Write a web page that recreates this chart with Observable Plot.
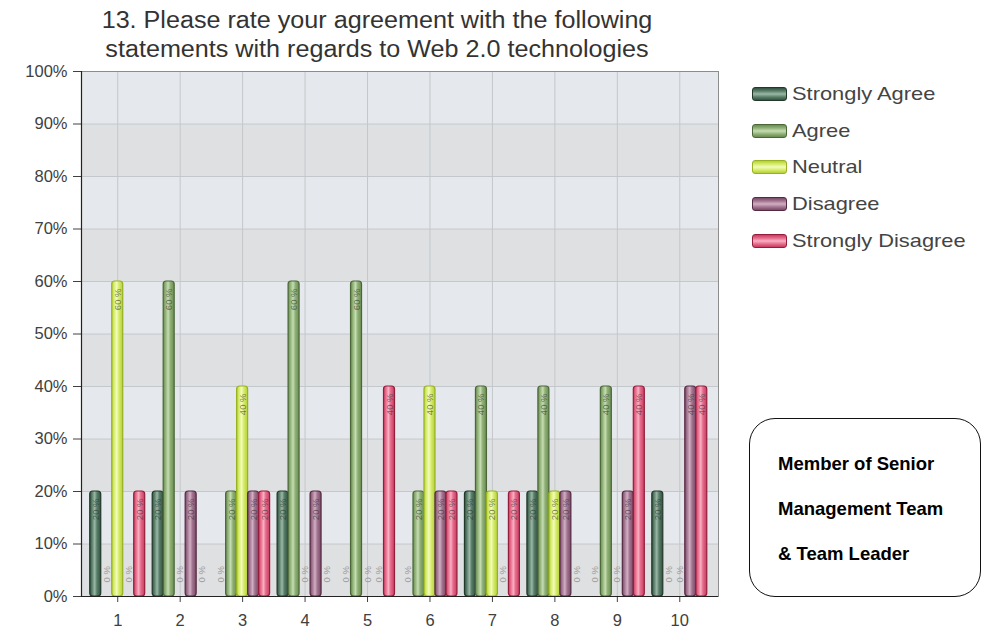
<!DOCTYPE html>
<html>
<head>
<meta charset="utf-8">
<script src="https://cdn.jsdelivr.net/npm/d3@7"></script>
<script src="https://cdn.jsdelivr.net/npm/@observablehq/plot@0.6"></script>
<style>
  html, body { margin: 0; padding: 0; background: #fff; }
  #page { position: relative; width: 982px; height: 637px; overflow: hidden; font-family: "Liberation Sans", Arial, sans-serif; }
  #title { position: absolute; left: 0; top: 6px; width: 754px; text-align: center; font-size: 23.5px; line-height: 29px; color: #333; transform: scaleX(1.07); transform-origin: 377px 0; }
  #chart { position: absolute; left: 0; top: 56px; }
  #legend { position: absolute; left: 752px; top: 76px; }
  .item { display: flex; align-items: center; height: 36.6px; color: #444; }
  .item span.lbl { font-size: 19px; display: inline-block; transform: scaleX(1.15); transform-origin: 0 50%; }
  .swatch { width: 35px; height: 14px; border-radius: 3px; margin-right: 5px; box-sizing: border-box; border: 1.3px solid; }
  #note { position: absolute; left: 749px; top: 418px; width: 232px; height: 179px; border: 1.5px solid #111; border-radius: 26px; box-sizing: border-box; }
  #note div { position: absolute; left: 28px; font-size: 18.5px; font-weight: bold; color: #000; }
</style>
</head>
<body>
<div id="page">
  <div id="title">13. Please rate your agreement with the following<br>statements with regards to Web 2.0 technologies</div>
  <div id="chart"></div>
  <div id="legend"></div>
  <div id="note"></div>
</div>
<script>
// Survey responses per statement (percent of respondents)
const statements = [1, 2, 3, 4, 5, 6, 7, 8, 9, 10];
const seriesNames = ["Strongly Agree", "Agree", "Neutral", "Disagree", "Strongly Disagree"];
const strongAgree    = [20, 20, 0, 20, 0, 0, 20, 20, 0, 20];
const agree          = [0, 60, 20, 60, 60, 20, 40, 40, 40, 0];
const neutral        = [60, 0, 40, 0, 0, 40, 20, 20, 0, 0];
const disagree       = [0, 20, 20, 20, 0, 20, 0, 20, 20, 40];
const strongDisagree = [20, 0, 20, 0, 40, 20, 20, 0, 40, 40];
const yTicks = [0, 10, 20, 30, 40, 50, 60, 70, 80, 90, 100];
const noteLines = ["Member of Senior", "Management Team", "& Team Leader"];

// Palette: [edge, body, highlight, outline]
const palette = [
  ["#33513f", "#587e69", "#9bb8a6", "#22382b"],
  ["#6a8b52", "#8fb176", "#c6ddb2", "#4b6738"],
  ["#b5cf38", "#d5ec6a", "#f3fbbd", "#98b122"],
  ["#7a4966", "#a27591", "#d2afc3", "#552b44"],
  ["#c63d60", "#e66a8b", "#f8b0c2", "#951d3c"]
];

const seriesValues = [strongAgree, agree, neutral, disagree, strongDisagree];
const slot = 0.176; // width of one bar, in statement units

const rows = [];
seriesValues.forEach((vals, s) => {
  vals.forEach((v, g) => {
    const x1 = statements[g] + (s - 2.5) * slot;
    rows.push({series: s, name: seriesNames[s], statement: statements[g], value: v, x1, x2: x1 + slot, xc: x1 + slot / 2});
  });
});
const bars = rows.filter(d => d.value > 0);
const zeros = rows.filter(d => d.value === 0);

const bands = yTicks.slice(0, -1).map((t, i) => ({y1: t, y2: yTicks[i + 1], fill: i % 2 === 0 ? "#dfe0e2" : "#e5e8ec"}));
const xDomain = [0.42, 10.62];

const barMarks = palette.map((p, s) => Plot.rectY(bars.filter(d => d.series === s), {
  x1: "x1", x2: "x2", y1: 0, y2: "value",
  fill: `url(#grad${s})`, stroke: p[3], strokeWidth: 1.2, rx: 3
}));

const chart = Plot.plot({
  width: 982,
  height: 581,
  marginTop: 15,
  marginLeft: 81,
  marginRight: 264,
  marginBottom: 41,
  style: {fontFamily: "'Liberation Sans', Arial, sans-serif", fontSize: "16.5px", color: "#404040", background: "transparent"},
  x: {type: "linear", domain: xDomain, ticks: statements, tickFormat: d => String(d), tickSize: 6, tickPadding: 12, label: null},
  y: {domain: [0, 100], ticks: yTicks, tickFormat: d => d + "%", tickSize: 8, tickPadding: 6, label: null},
  marks: [
    Plot.rect(bands, {y1: "y1", y2: "y2", fill: "fill"}),
    Plot.ruleY(yTicks, {stroke: "#c4c7cb", strokeWidth: 1}),
    Plot.ruleX(statements, {stroke: "#c4c7cb", strokeWidth: 1}),
    Plot.frame({stroke: "#8c8c8c"}),
    ...barMarks,
    Plot.text(bars, {x: "xc", y: "value", text: d => d.value + " %", rotate: -90, textAnchor: "end", dy: 7, fontSize: 9.5, fill: "#2c2c2c", fillOpacity: 0.6}),
    Plot.text(zeros, {x: "xc", y: 0, text: () => "0 %", rotate: -90, textAnchor: "start", dy: -14, fontSize: 9.5, fill: "#9a9a9a"}),
    Plot.ruleX([xDomain[0]], {stroke: "#222", strokeWidth: 1.2}),
    Plot.ruleY([0], {stroke: "#222", strokeWidth: 1.2})
  ]
});

// Horizontal glassy gradients for the bars
const defs = d3.select(chart).insert("defs", ":first-child");
palette.forEach((p, s) => {
  const g = defs.append("linearGradient").attr("id", `grad${s}`).attr("x1", 0).attr("x2", 1).attr("y1", 0).attr("y2", 0);
  [[0, p[0]], [0.2, p[1]], [0.45, p[2]], [0.65, p[1]], [1, p[0]]].forEach(([o, c]) =>
    g.append("stop").attr("offset", o).attr("stop-color", c));
});
document.getElementById("chart").appendChild(chart);

// Legend
const legend = document.getElementById("legend");
seriesNames.forEach((name, s) => {
  const p = palette[s];
  const item = document.createElement("div");
  item.className = "item";
  const sw = document.createElement("span");
  sw.className = "swatch";
  sw.style.borderColor = p[3];
  sw.style.background = `linear-gradient(to bottom, ${p[0]} 0%, ${p[1]} 25%, ${p[2]} 50%, ${p[1]} 75%, ${p[0]} 100%)`;
  const lbl = document.createElement("span");
  lbl.className = "lbl";
  lbl.textContent = name;
  item.appendChild(sw);
  item.appendChild(lbl);
  legend.appendChild(item);
});

// Respondent group note
const note = document.getElementById("note");
noteLines.forEach((line, i) => {
  const el = document.createElement("div");
  el.textContent = line;
  el.style.top = (34 + i * 45) + "px";
  note.appendChild(el);
});
</script>
</body>
</html>
